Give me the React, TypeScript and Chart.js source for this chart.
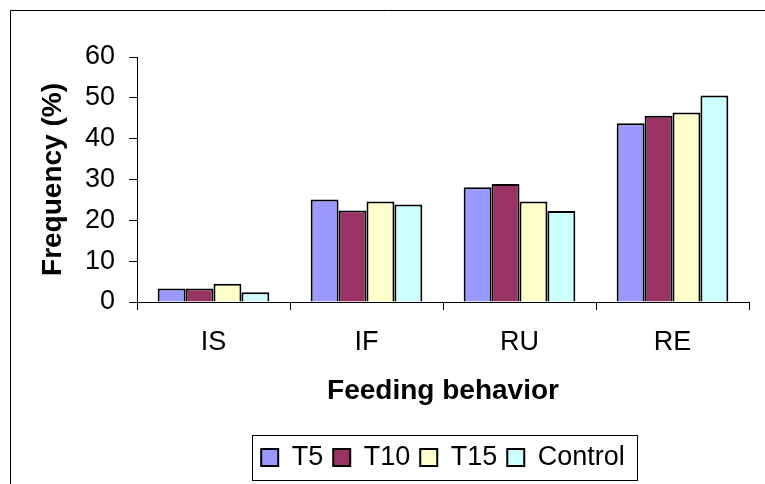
import { useEffect, useRef } from "react";
import { Chart, registerables } from "chart.js";

Chart.register(...registerables);

const categories = ["IS", "IF", "RU", "RE"];
const seriesNames = ["T5", "T10", "T15", "Control"];
const t5Values = [3.3, 25.1, 28.1, 43.8];
const t10Values = [3.3, 22.4, 28.9, 45.6];
const t15Values = [4.5, 24.6, 24.6, 46.4];
const controlValues = [2.4, 23.9, 22.3, 50.6];
const yTickValues = [0, 10, 20, 30, 40, 50, 60];
const seriesColors = ["#9999FF", "#993366", "#FFFFCC", "#CCFFFF"];

const FONT = "'Liberation Sans', Arial, sans-serif";

const framePlugin = {
  id: "frame",
  beforeDraw(chart: any) {
    const ctx = chart.ctx;
    ctx.save();
    ctx.fillStyle = "#ffffff";
    ctx.fillRect(0, 0, chart.width, chart.height);
    ctx.strokeStyle = "#000000";
    ctx.lineWidth = 1;
    ctx.beginPath();
    ctx.moveTo(10.5, chart.height + 5);
    ctx.lineTo(10.5, 10.5);
    ctx.lineTo(chart.width + 5, 10.5);
    ctx.stroke();
    ctx.restore();
  },
  afterDraw(chart: any) {
    const legend = chart.legend;
    if (!legend || !legend.legendHitBoxes || !legend.legendHitBoxes.length) return;
    const boxes = legend.legendHitBoxes;
    const first = boxes[0];
    const last = boxes[boxes.length - 1];
    const cy = first.top + first.height / 2;
    const left = Math.round(first.left - 9) + 0.5;
    const right = Math.round(last.left + last.width + 12) + 0.5;
    const top = Math.round(cy - 23) + 0.5;
    const bottom = Math.round(cy + 22) + 0.5;
    const ctx = chart.ctx;
    ctx.save();
    ctx.strokeStyle = "#000000";
    ctx.lineWidth = 1;
    ctx.strokeRect(left, top, right - left, bottom - top);
    ctx.restore();
  },
};

export default function App() {
  const canvasRef = useRef<HTMLCanvasElement | null>(null);

  useEffect(() => {
    if (!canvasRef.current) return;
    const allValues = [t5Values, t10Values, t15Values, controlValues];
    const chart = new Chart(canvasRef.current, {
      type: "bar",
      data: {
        labels: categories,
        datasets: seriesNames.map((name, i) => ({
          label: name,
          data: allValues[i],
          backgroundColor: seriesColors[i],
          borderColor: "#000000",
          borderWidth: 2,
          categoryPercentage: 0.73,
          barPercentage: 1.0,
        })),
      },
      options: {
        animation: false,
        responsive: false,
        maintainAspectRatio: false,
        events: [],
        layout: { padding: { left: 34, right: 16, top: 57, bottom: 3 } },
        plugins: {
          tooltip: { enabled: false },
          title: { display: false },
          legend: {
            display: true,
            position: "bottom",
            fullSize: false,
            labels: {
              boxWidth: 17,
              boxHeight: 17,
              padding: 10,
              color: "#000000",
              font: { family: FONT, size: 27 },
            },
          },
        },
        scales: {
          x: {
            type: "category",
            offset: true,
            afterFit(scale: any) {
              scale.height = 132;
            },
            border: { display: true, color: "#000000", width: 1 },
            grid: {
              offset: true,
              drawOnChartArea: false,
              drawTicks: true,
              tickLength: 8,
              color: "#000000",
            },
            ticks: {
              color: "#000000",
              padding: 16,
              font: { family: FONT, size: 27 },
              maxRotation: 0,
            },
            title: {
              display: true,
              text: "Feeding behavior",
              color: "#000000",
              font: { family: FONT, size: 28, weight: "bold" },
              padding: { top: 0, bottom: 26 },
            },
          },
          y: {
            type: "linear",
            min: yTickValues[0],
            max: yTickValues[yTickValues.length - 1],
            afterFit(scale: any) {
              scale.width = 103;
            },
            afterBuildTicks(scale: any) {
              scale.ticks = yTickValues.map((v) => ({ value: v }));
            },
            border: { display: true, color: "#000000", width: 1 },
            grid: {
              drawOnChartArea: false,
              drawTicks: true,
              tickLength: 8,
              color: "#000000",
            },
            ticks: {
              color: "#000000",
              padding: 14,
              font: { family: FONT, size: 27 },
            },
            title: {
              display: true,
              text: "Frequency (%)",
              color: "#000000",
              font: { family: FONT, size: 28, weight: "bold" },
              padding: { top: 2, bottom: 0 },
            },
          },
        },
      },
      plugins: [framePlugin],
    });
    return () => chart.destroy();
  }, []);

  return (
    <div style={{ position: "absolute", left: 0, top: 0, width: 765, height: 484 }}>
      <canvas ref={canvasRef} width={765} height={484} style={{ display: "block", width: 765, height: 484 }} />
    </div>
  );
}
